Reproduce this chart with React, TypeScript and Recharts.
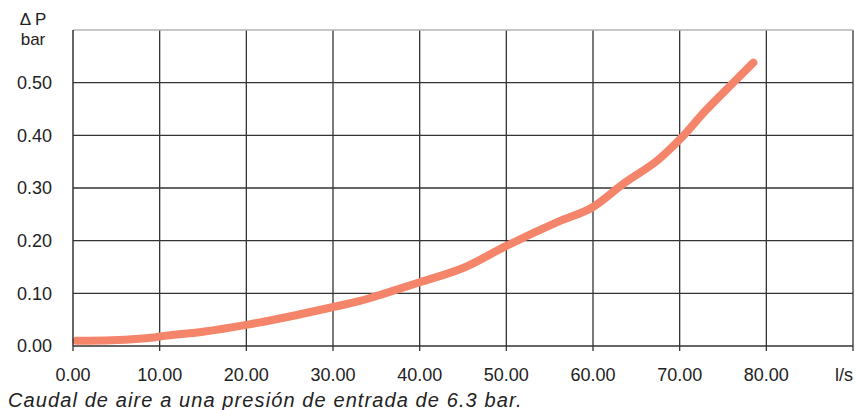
import React from "react";
import { LineChart, Line, XAxis, YAxis, CartesianGrid, ReferenceLine } from "recharts";

const flowValues = [0.4, 4.5, 9.3, 10, 15, 20, 22.3, 25, 30, 33, 36, 40, 45, 50, 56, 60, 63.5, 67.7, 70, 73, 76, 78.5];
const pressureDrop = [0.010, 0.011, 0.016, 0.018, 0.027, 0.040, 0.047, 0.056, 0.074, 0.085, 0.100, 0.121, 0.148, 0.190, 0.236, 0.264, 0.308, 0.356, 0.392, 0.447, 0.497, 0.538];
const xTicks = [0, 10, 20, 30, 40, 50, 60, 70, 80, 90];
const yTicks = [0, 0.1, 0.2, 0.3, 0.4, 0.5, 0.6];
const xUnit = "l/s";
const yUnitLines = ["\u0394 P", "bar"];
const caption = "Caudal de aire a una presión de entrada de 6.3 bar.";

const data = flowValues.map((x, i) => ({ x, y: pressureDrop[i] }));

const FONT = '"Liberation Sans", Arial, sans-serif';
const TEXT = "#222";
const GRID = "#333";
const FS = 18;

const XTick = (props: any) => {
  const { x, y, payload } = props;
  const isUnit = payload.value === 90;
  return (
    <text x={x} y={y} dy="0.71em" textAnchor={isUnit ? "end" : "middle"} fill={TEXT} fontSize={FS} fontFamily={FONT}>
      {isUnit ? xUnit : Number(payload.value).toFixed(2)}
    </text>
  );
};

const YTick = (props: any) => {
  const { x, y, payload } = props;
  if (Math.abs(payload.value - 0.6) < 1e-9) {
    return (
      <g>
        <text x={x - 19} y={y - 5} textAnchor="middle" fill={TEXT} fontSize={17} fontFamily={FONT}>{yUnitLines[0]}</text>
        <text x={x - 19} y={y + 15} textAnchor="middle" fill={TEXT} fontSize={17} fontFamily={FONT}>{yUnitLines[1]}</text>
      </g>
    );
  }
  return (
    <text x={x} y={y} dy="0.355em" textAnchor="end" fill={TEXT} fontSize={FS} fontFamily={FONT}>
      {Number(payload.value).toFixed(2)}
    </text>
  );
};

export default function App() {
  return (
    <div style={{ position: "absolute", left: 0, top: 0, width: 855, height: 410, background: "#fff" }}>
      <LineChart width={855} height={410} data={data} margin={{ top: 30, right: 2, bottom: 24, left: 0 }}>
        <CartesianGrid
          stroke={GRID}
          strokeWidth={1.3}
          horizontalValues={[0.1, 0.2, 0.3, 0.4, 0.5]}
          verticalValues={[10, 20, 30, 40, 50, 60, 70, 80, 90]}
        />
        <ReferenceLine y={0.6} stroke="#b5b5b5" strokeWidth={1.3} ifOverflow="extendDomain" />
        <XAxis
          dataKey="x"
          type="number"
          domain={[0, 90]}
          ticks={xTicks}
          interval={0}
          height={40}
          tickSize={5}
          tickMargin={17}
          axisLine={{ stroke: GRID, strokeWidth: 1.5 }}
          tickLine={{ stroke: GRID, strokeWidth: 1.3 }}
          tick={<XTick />}
        />
        <YAxis
          type="number"
          domain={[0, 0.6]}
          ticks={yTicks}
          interval={0}
          width={73}
          tickSize={0}
          tickMargin={21}
          tickLine={false}
          axisLine={{ stroke: GRID, strokeWidth: 1.5 }}
          tick={<YTick />}
        />
        <Line
          dataKey="y"
          type="monotone"
          stroke="#f4846a"
          strokeWidth={8}
          strokeLinecap="round"
          strokeLinejoin="round"
          dot={false}
          activeDot={false}
          isAnimationActive={false}
        />
      </LineChart>
      <div
        style={{
          position: "absolute",
          left: 8,
          top: 390,
          fontFamily: FONT,
          fontStyle: "italic",
          fontSize: 20,
          letterSpacing: 1.1,
          color: TEXT,
          whiteSpace: "nowrap",
          lineHeight: "20px",
        }}
      >
        {caption}
      </div>
    </div>
  );
}
